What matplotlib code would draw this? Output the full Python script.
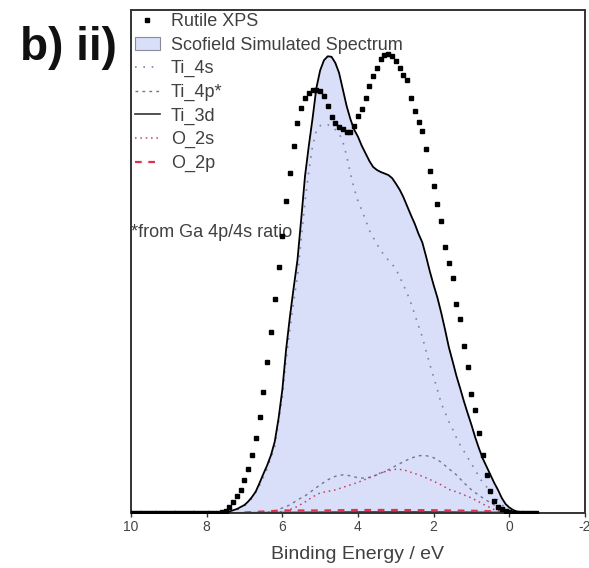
import numpy as np
import matplotlib
matplotlib.use("Agg")
import matplotlib.pyplot as plt
from matplotlib.patches import Patch
from matplotlib.lines import Line2D

plt.rcParams['font.family'] = ['Liberation Sans', 'DejaVu Sans']
plt.rcParams['axes.unicode_minus'] = False

# --- Rutile XPS (binding energy grid 10.0 -> -0.7 eV, 0.1 eV steps)
xps_energy = np.round(np.arange(10.0, -0.75, -0.1), 1)
xps_counts = np.zeros_like(xps_energy)
xps_nonzero = {
    7.6: 0.2, 7.5: 0.5, 7.4: 1.2, 7.3: 2.2, 7.2: 3.4, 7.1: 4.6, 7.0: 6.5,
    6.9: 8.7, 6.8: 11.5, 6.7: 15.0, 6.6: 19.0, 6.5: 24.0, 6.4: 30.0,
    6.3: 36.0, 6.2: 42.5, 6.1: 49.0, 6.0: 55.0, 5.9: 62.0, 5.8: 67.5,
    5.7: 73.0, 5.6: 77.5, 5.5: 80.5, 5.4: 82.5, 5.3: 83.5, 5.2: 84.0,
    5.1: 84.0, 5.0: 83.8, 4.9: 83.0, 4.8: 81.0, 4.7: 78.8, 4.6: 77.5,
    4.5: 76.8, 4.4: 76.3, 4.3: 75.8, 4.2: 75.8, 4.1: 77.0, 4.0: 79.0,
    3.9: 80.3, 3.8: 82.5, 3.7: 84.8, 3.6: 86.8, 3.5: 88.5, 3.4: 90.2,
    3.3: 91.0, 3.2: 91.2, 3.1: 90.8, 3.0: 89.8, 2.9: 88.5, 2.8: 87.0,
    2.7: 86.0, 2.6: 82.5, 2.5: 80.0, 2.4: 77.8, 2.3: 76.0, 2.2: 72.3,
    2.1: 68.0, 2.0: 65.0, 1.9: 61.4, 1.8: 58.0, 1.7: 52.8, 1.6: 49.7,
    1.5: 46.7, 1.4: 41.5, 1.3: 38.6, 1.2: 33.3, 1.1: 29.0, 1.0: 23.7,
    0.9: 20.5, 0.8: 16.0, 0.7: 11.5, 0.6: 7.5, 0.5: 4.4, 0.4: 2.4,
    0.3: 1.2, 0.2: 0.7, 0.1: 0.4, 0.0: 0.2, -0.1: 0.1,
}
for e, v in xps_nonzero.items():
    xps_counts[np.isclose(xps_energy, e)] = v

# --- Scofield simulated spectrum (total)
sim_energy = [10.0, 7.8, 7.6, 7.4, 7.2, 7.0, 6.9, 6.8, 6.7, 6.6, 6.5, 6.4, 6.3,
              6.2, 6.1, 6.0, 5.9, 5.8, 5.7, 5.6, 5.5, 5.4, 5.3, 5.2, 5.1, 5.0,
              4.9, 4.8, 4.7, 4.6, 4.5, 4.4, 4.3, 4.2, 4.1, 4.0, 3.9, 3.8, 3.7,
              3.6, 3.5, 3.4, 3.3, 3.2, 3.1, 3.0, 2.9, 2.8, 2.7, 2.6, 2.5, 2.4,
              2.3, 2.2, 2.1, 2.0, 1.9, 1.8, 1.7, 1.6, 1.5, 1.4, 1.3, 1.2, 1.1,
              1.0, 0.9, 0.8, 0.7, 0.6, 0.5, 0.4, 0.3, 0.2, 0.1, 0.0, -0.1,
              -0.2, -0.3, -0.4, -0.5]
sim_total = [0.0, 0.0, 0.1, 0.3, 0.8, 1.6, 2.3, 3.2, 4.3, 6.0, 7.8, 9.5, 11.5,
             14.2, 18.8, 24.5, 32.5, 39.0, 44.8, 50.3, 58.5, 67.0, 73.0, 78.5,
             84.5, 88.0, 90.0, 90.8, 90.7, 89.5, 87.5, 84.2, 80.9, 78.3, 76.2,
             74.8, 73.0, 71.5, 70.0, 68.8, 68.2, 67.8, 67.5, 67.2, 66.6, 65.5,
             64.3, 62.8, 61.0, 59.2, 57.5, 55.5, 53.8, 51.0, 48.0, 45.3, 42.8,
             39.8, 36.5, 33.0, 30.2, 27.3, 24.8, 22.2, 19.8, 17.5, 15.0, 12.8,
             10.8, 9.2, 7.6, 6.0, 4.6, 3.0, 1.8, 1.1, 0.6, 0.3, 0.2, 0.1, 0.0]

# --- Components
ti4s_energy = [7.4, 7.2, 7.0, 6.8, 6.6, 6.4, 6.2, 6.0, 5.9, 5.8, 5.7, 5.6, 5.5,
               5.4, 5.3, 5.2, 5.1, 5.0, 4.9, 4.8, 4.7, 4.6, 4.5, 4.4, 4.3, 4.2,
               4.1, 4.0, 3.9, 3.8, 3.7, 3.6, 3.5, 3.4, 3.3, 3.2, 3.1, 3.0, 2.9,
               2.8, 2.7, 2.6, 2.5, 2.4, 2.3, 2.2, 2.1, 2.0, 1.9, 1.8, 1.7, 1.6,
               1.5, 1.4, 1.3, 1.2, 1.1, 1.0, 0.9, 0.8, 0.7, 0.6, 0.5, 0.4, 0.3,
               0.2, 0.1, 0.0, -0.2]
ti4s = [0.2, 0.6, 1.4, 2.9, 5.5, 8.8, 13.2, 23.0, 30.5, 36.5, 42.0, 47.0, 54.5,
        62.0, 68.0, 73.0, 76.0, 77.0, 77.3, 77.2, 76.8, 76.2, 75.5, 73.8, 71.0,
        67.5, 64.5, 62.0, 60.2, 58.3, 56.2, 54.8, 53.5, 52.2, 51.2, 50.3, 49.5,
        48.5, 47.0, 45.3, 43.7, 41.7, 39.5, 37.2, 35.0, 32.2, 29.5, 27.0, 24.5,
        21.8, 20.0, 18.2, 16.7, 15.0, 13.5, 12.3, 11.0, 9.8, 8.5, 7.2, 6.0, 5.2,
        4.2, 3.4, 2.5, 1.7, 1.0, 0.5, 0.1]

ti4p_energy = [6.4, 6.2, 6.0, 5.8, 5.6, 5.4, 5.2, 5.0, 4.8, 4.6, 4.4, 4.2, 4.0,
               3.8, 3.6, 3.4, 3.2, 3.0, 2.8, 2.6, 2.4, 2.2, 2.0, 1.8, 1.6, 1.4,
               1.2, 1.0, 0.8, 0.6, 0.4, 0.2, 0.0]
ti4p = [0.1, 0.4, 1.0, 1.6, 2.6, 3.4, 4.5, 5.6, 6.6, 7.3, 7.6, 7.4, 7.0, 6.9,
        7.3, 7.9, 8.6, 9.4, 10.2, 10.9, 11.4, 11.4, 11.0, 10.1, 8.8, 7.6, 6.0,
        4.6, 3.5, 2.5, 1.6, 0.8, 0.2]

ti3d_energy = [10.0, 8.0, 6.0, 4.0, 2.0, 0.0, -0.5]
ti3d = [0.0, 0.0, 0.1, 0.2, 0.2, 0.1, 0.0]

o2s_energy = [6.2, 6.0, 5.8, 5.6, 5.4, 5.2, 5.0, 4.8, 4.6, 4.4, 4.2, 4.0, 3.8,
              3.6, 3.4, 3.2, 3.0, 2.8, 2.6, 2.4, 2.2, 2.0, 1.8, 1.6, 1.4, 1.2,
              1.0, 0.8, 0.6, 0.4, 0.2, 0.0]
o2s = [0.1, 0.3, 0.7, 1.3, 2.2, 3.2, 4.0, 4.3, 4.6, 5.1, 5.6, 6.1, 6.7, 7.3,
       8.0, 8.4, 8.7, 8.6, 8.1, 7.6, 7.0, 6.3, 5.6, 4.7, 4.2, 3.6, 3.0, 2.2, 1.4,
       0.7, 0.3, 0.0]

o2p_energy = [7.0, 6.5, 6.0, 5.0, 4.0, 3.0, 2.0, 1.0, 0.5, 0.0, -0.3]
o2p = [0.1, 0.3, 0.5, 0.5, 0.6, 0.6, 0.55, 0.45, 0.35, 0.2, 0.05]

fig = plt.figure(figsize=(5.89, 5.68), dpi=100)
ax = fig.add_axes([0.2224, 0.0968, 0.7708, 0.8856])

ax.fill_between(sim_energy, sim_total, 0, color='#d9def9', lw=0, zorder=1)
ax.plot(sim_energy, sim_total, color='black', lw=1.3, zorder=3)

ax.plot(ti4s_energy, ti4s, color='#7c83a6', lw=1.2, ls=(0, (1, 4)), zorder=2)
ax.plot(ti4p_energy, ti4p, color='#6f7590', lw=1.0, ls=(0, (2, 3)), zorder=2)
ax.plot(ti3d_energy, ti3d, color='#333333', lw=1.2, zorder=2)
ax.plot(o2s_energy, o2s, color='#c04060', lw=1.1, ls=(0, (1, 2.5)), zorder=2)
ax.plot(o2p_energy, o2p, color='#e03050', lw=1.6, ls=(0, (3, 3)), zorder=2)

ax.plot(xps_energy, xps_counts, ls='none', marker='s', ms=2.2,
        color='black', zorder=4)

ax.set_xlim(10, -2)
ax.set_ylim(0, 100)
ax.set_yticks([])
ax.set_xticks([10, 8, 6, 4, 2, 0, -2])
ax.tick_params(axis='x', direction='out', length=3, width=1,
               labelsize=10, labelcolor='#444444', color='#333333', pad=2)
for s in ax.spines.values():
    s.set_color('#333333')
    s.set_linewidth(1.4)
ax.set_xlabel('Binding Energy / eV', fontsize=14, color='#404040', labelpad=9)

handles = [
    Line2D([], [], ls='none', marker='s', ms=2.2, color='black'),
    Patch(facecolor='#d9def9', edgecolor='#8a8a9a', lw=0.8),
    Line2D([], [], color='#7c83a6', lw=1.2, ls=(0, (1, 4))),
    Line2D([], [], color='#6f7590', lw=1.0, ls=(0, (2, 3))),
    Line2D([], [], color='#333333', lw=1.2),
    Line2D([], [], color='#c04060', lw=1.1, ls=(0, (1, 2.5))),
    Line2D([], [], color='#e03050', lw=1.6, ls=(0, (3, 3))),
]
labels = ['Rutile XPS', 'Scofield Simulated Spectrum', 'Ti_4s', 'Ti_4p*',
          'Ti_3d', 'O_2s', 'O_2p']
leg = ax.legend(handles, labels, loc='upper left', bbox_to_anchor=(-0.0066, 1.008),
                frameon=False, fontsize=13, handlelength=1.35,
                handletextpad=0.62, labelspacing=0.36, borderaxespad=0)
for t in leg.get_texts():
    t.set_color('#404040')

ax.text(0.0, 55.7, '*from Ga 4p/4s ratio', transform=ax.get_yaxis_transform(),
        fontsize=13, color='#404040', va='center', ha='left')

fig.text(20 / 589, 1 - 60 / 568, 'b) ii)', fontsize=33, fontweight='bold',
         color='#111111', ha='left', va='baseline')

fig.savefig('out.png', dpi=100)
